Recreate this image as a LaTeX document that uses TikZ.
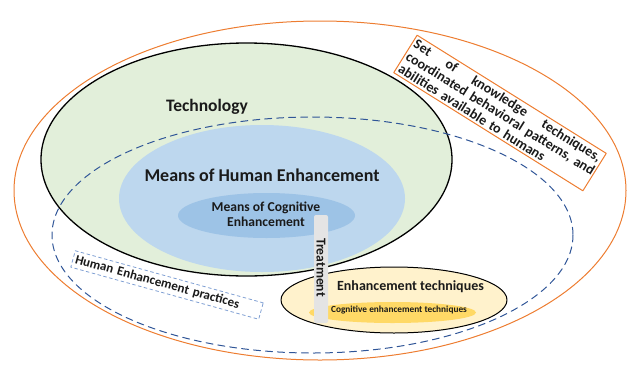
\documentclass[tikz,border=0pt]{standalone}
\usepackage{fontspec}
\setmainfont{Carlito}
\usetikzlibrary{positioning}
\definecolor{ink}{HTML}{1A1A1A}
\definecolor{outercol}{HTML}{ED7D31}
\definecolor{techcol}{HTML}{E2EFDA}
\definecolor{meanscol}{HTML}{BDD7EE}
\definecolor{cogcol}{HTML}{9DC3E6}
\definecolor{practcol}{HTML}{2F5597}
\definecolor{boxcol}{HTML}{7F9FD3}
\definecolor{techqcol}{HTML}{FFF2CC}
\definecolor{cogtcol}{HTML}{FFD966}
\definecolor{barcol}{HTML}{E4E4E4}
% a line of the note, spread over the full width
\newcommand{\fullline}[1]{\leavevmode\hbox to 218pt{#1}}

\begin{document}
\begin{tikzpicture}[
  x=1pt, y=-1pt, line cap=round, line join=round,
  lbl/.style={text=ink, inner sep=0pt, align=center, font=\bfseries},
  big/.style={lbl, font=\fontsize{18}{21}\selectfont\bfseries},
  mid/.style={lbl, font=\fontsize{13.6}{15}\selectfont\bfseries},
  note/.style={text=ink, font=\fontsize{13}{14.2}\selectfont\bfseries}]

\useasboundingbox (0,0) rectangle (635,365);

% ================================================================ outer sets
\draw[outercol, line width=1pt] (320,190.5) ellipse (306 and 169.5);
\draw[black, fill=techcol, line width=1.3pt] (246.5,159.5) ellipse (205.5 and 116.5);
\draw[practcol, dashed, dash pattern=on 7pt off 5pt, line width=1pt]
  (312.5,235) ellipse (260.5 and 118);

% ================================================================ means
\fill[meanscol] (262,198.5) ellipse (143 and 73.5);
\fill[cogcol] (266.5,215.5) ellipse (88.5 and 22.5);

% ================================================================ techniques
\draw[black, fill=techqcol, line width=1pt] (394,300) ellipse (113 and 33);
\fill[cogtcol] (392.5,312.5) ellipse (83.5 and 10.5);

% the treatment bar
\fill[barcol, rounded corners=2pt] (314,215) rectangle (328,323);

% ================================================================ labels
\node[big, font=\fontsize{17.5}{21}\selectfont\bfseries] (tech) at (207,107) {Technology};
\node[big] (means) at (262,175) {Means of Human Enhancement};
\node[mid] (cogmeans) at (266,214) {Means of Cognitive\\Enhancement};
\node[mid, rotate=-90] (treat) at (321,267.5) {Treatment};
\node[lbl, font=\fontsize{14}{16}\selectfont\bfseries] (techq) at (410.5,287) {Enhancement techniques};
\node[lbl, font=\fontsize{9.3}{11}\selectfont\bfseries] (cogtech) at (399,310) {Cognitive enhancement techniques};

\node[note, draw=boxcol, dashed, line width=0.8pt, rotate=-15.5,
      minimum width=195pt, minimum height=17pt, inner sep=1pt,
      text width=190pt, align=left] (pract) at (167,285)
  {Human Enhancement practices};

\node[note, font=\fontsize{14}{14.6}\selectfont\bfseries, draw=outercol,
      line width=1pt, rotate=-32, text width=218pt, align=left, inner sep=2.5pt]
  (knowhow) at (500,113)
  {\fullline{Set\hfill of\hfill knowledge\hfill techniques,}\\
   \fullline{coordinated behavioral patterns, and}\\
   abilities available to humans};

\end{tikzpicture}
\end{document}
